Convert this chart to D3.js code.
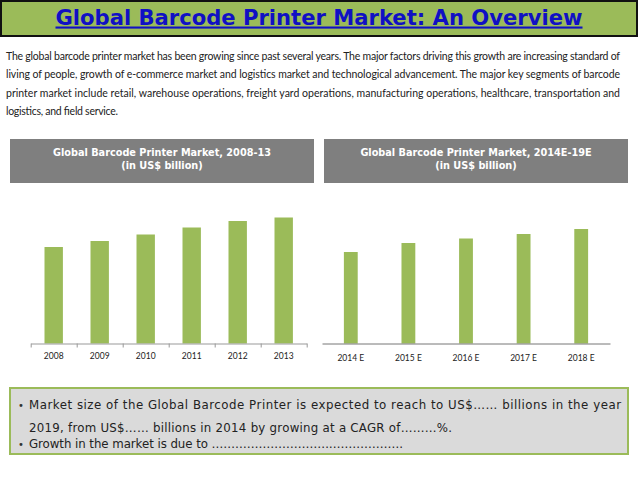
<!DOCTYPE html>
<html>
<head>
<meta charset="utf-8">
<script src="https://cdn.jsdelivr.net/npm/d3@7"></script>
<style>
  body { margin: 0; background: #fff; }
  svg { display: block; }
</style>
</head>
<body>
<div id="chart"></div>
<script>
// chart data (US$ billion, approx.)
var histYears = ["2008", "2009", "2010", "2011", "2012", "2013"];
var histValues = [1.93, 2.05, 2.18, 2.32, 2.45, 2.52];
var fcYears = ["2014 E", "2015 E", "2016 E", "2017 E", "2018 E"];
var fcValues = [1.83, 2.01, 2.10, 2.19, 2.29];

var titleText = "Global Barcode Printer Market: An Overview";
var introLines = [
    "The global barcode printer market has been growing since past several years. The major factors driving this growth are increasing standard of",
    "living of people, growth of e-commerce market and logistics market and technological advancement. The major key segments of barcode",
    "printer market include retail, warehouse operations, freight yard operations, manufacturing operations, healthcare, transportation and",
    "logistics, and field service."
];
var introWidths = [614, 614, 614, 112];
var panelTitles = [
    ["Global Barcode Printer Market, 2008-13", "(in US$ billion)"],
    ["Global Barcode Printer Market, 2014E-19E", "(in US$ billion)"]
];
var noteLines = [
    {bullet: true, text: "Market size of the Global Barcode Printer is expected to reach to US$\u2026\u2026 billions in the year", width: 592},
    {bullet: false, text: "2019, from US$\u2026\u2026 billions in 2014 by growing at a CAGR of\u2026\u2026\u2026%.", width: 423},
    {bullet: true, text: "Growth in the market is due to \u2026\u2026\u2026\u2026\u2026\u2026\u2026\u2026\u2026\u2026\u2026\u2026\u2026\u2026\u2026\u2026.", width: 374}
];
var noteY = [409, 432, 448];

var green = "#9bbb59";
var W = 638, H = 479;

var svg = d3.select("#chart").append("svg")
    .attr("width", W)
    .attr("height", H);

svg.append("rect").attr("width", W).attr("height", H).attr("fill", "#fff");

// title band
svg.append("rect")
    .attr("x", 1).attr("y", 1)
    .attr("width", W - 2).attr("height", 35)
    .attr("fill", green)
    .attr("stroke", "#111").attr("stroke-width", 2);

svg.append("text")
    .attr("x", W / 2).attr("y", 24.5)
    .attr("text-anchor", "middle")
    .attr("font-family", "DejaVu Sans Condensed, DejaVu Sans")
    .attr("font-weight", "bold")
    .attr("font-size", 21)
    .attr("fill", "#1010c4")
    .attr("text-decoration", "underline")
    .attr("textLength", 527)
    .attr("lengthAdjust", "spacingAndGlyphs")
    .text(titleText);

// intro paragraph, justified lines
svg.selectAll("text.intro")
    .data(introLines)
    .join("text")
    .attr("class", "intro")
    .attr("x", 6)
    .attr("y", (d, i) => 59.5 + i * 18.6)
    .attr("font-family", "Lato, Open Sans, sans-serif")
    .attr("font-size", 10.5)
    .attr("fill", "#222")
    .attr("textLength", (d, i) => introWidths[i])
    .attr("lengthAdjust", "spacing")
    .text(d => d);

// one bar panel
function drawPanel(px, titles, cats, vals, opts) {
    var g = svg.append("g");

    g.append("rect")
        .attr("x", px).attr("y", 139)
        .attr("width", 304).attr("height", 44)
        .attr("fill", "#7f7f7f");

    g.selectAll("text.ptitle")
        .data(titles)
        .join("text")
        .attr("class", "ptitle")
        .attr("x", px + 152)
        .attr("y", (d, i) => 156 + i * 12.5)
        .attr("text-anchor", "middle")
        .attr("font-family", "DejaVu Sans Condensed, DejaVu Sans")
        .attr("font-weight", "bold")
        .attr("font-size", 10.8)
        .attr("fill", "#fff")
        .text(d => d);

    var x = d3.scaleBand()
        .domain(cats)
        .range([opts.x0, opts.x1])
        .paddingInner(opts.pad)
        .paddingOuter(opts.pad / 2);

    var y = d3.scaleLinear()
        .domain([0, 3])
        .range([343.5, 193.5]);

    g.selectAll("rect.bar")
        .data(vals)
        .join("rect")
        .attr("class", "bar")
        .attr("x", (d, i) => x(cats[i]))
        .attr("y", d => y(d))
        .attr("width", x.bandwidth())
        .attr("height", d => y(0) - y(d))
        .attr("fill", green);

    // tick marks between categories
    if (opts.ticks) {
        var tx = d3.scaleLinear().domain([0, cats.length]).range([opts.x0, opts.x1]);
        var tAxis = g.append("g")
            .attr("transform", "translate(0," + y(0) + ")")
            .call(d3.axisBottom(tx).ticks(cats.length).tickSize(4).tickFormat(""));
        tAxis.selectAll("line").attr("stroke", "#999");
        tAxis.select(".domain").remove();
    }

    var ax = g.append("g")
        .attr("transform", "translate(0," + y(0) + ")")
        .call(d3.axisBottom(x).tickSize(0).tickPadding(opts.labPad).tickSizeOuter(0));
    ax.select(".domain").attr("stroke", opts.axisColor);
    ax.selectAll("text")
        .attr("font-family", "Lato, Open Sans, sans-serif")
        .attr("font-size", 8.5)
        .attr("fill", "#222");
}

drawPanel(10, panelTitles[0], histYears, histValues, {x0: 30.7, x1: 306.7, pad: 0.6, ticks: true, labPad: 9, axisColor: "#999"});
drawPanel(324, panelTitles[1], fcYears, fcValues, {x0: 322, x1: 610, pad: 0.76, ticks: false, labPad: 11, axisColor: "#777"});

// bottom note box
svg.append("rect")
    .attr("x", 10).attr("y", 388)
    .attr("width", 618).attr("height", 66)
    .attr("fill", "#dadada")
    .attr("stroke", green).attr("stroke-width", 2);

var notes = svg.selectAll("g.note")
    .data(noteLines)
    .join("g")
    .attr("class", "note");

notes.filter(d => d.bullet)
    .append("text")
    .attr("x", 18)
    .attr("y", d => noteY[noteLines.indexOf(d)])
    .attr("font-family", "DejaVu Sans")
    .attr("font-size", 10)
    .attr("fill", "#333")
    .text("\u2022");

notes.append("text")
    .attr("x", 29)
    .attr("y", d => noteY[noteLines.indexOf(d)])
    .attr("font-family", "DejaVu Sans")
    .attr("font-size", 11.8)
    .attr("fill", "#222")
    .attr("textLength", d => d.width)
    .attr("lengthAdjust", "spacing")
    .text(d => d.text);
</script>
</body>
</html>
